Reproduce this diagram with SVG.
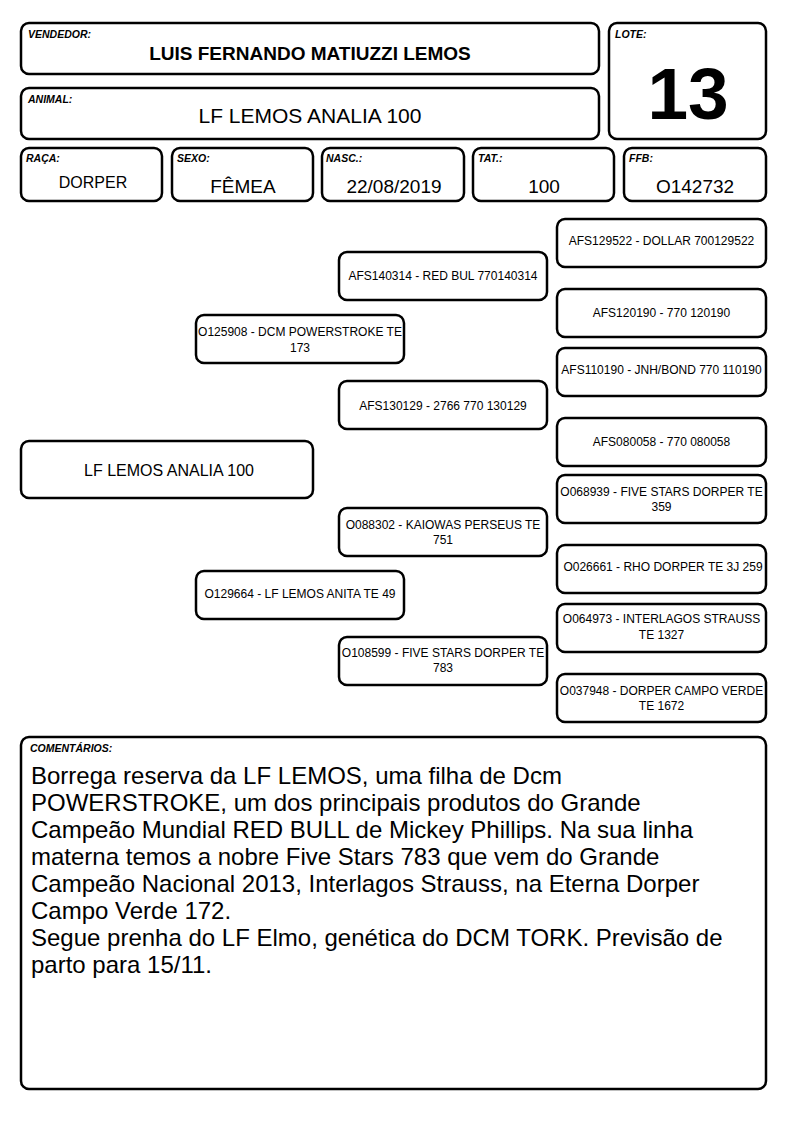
<svg xmlns="http://www.w3.org/2000/svg" width="794" height="1123" viewBox="0 0 794 1123">
<style>
.box{fill:#fff;stroke:#000;stroke-width:2.5}
.lbl{font-family:"Liberation Sans",Arial,sans-serif;font-size:10.5px;font-weight:bold;font-style:italic;fill:#000}
.val{font-family:"Liberation Sans",Arial,sans-serif;font-size:19px;fill:#000;text-anchor:middle}
.ped{font-family:"Liberation Sans",Arial,sans-serif;font-size:12px;fill:#000;text-anchor:middle}
.com{font-family:"Liberation Sans",Arial,sans-serif;font-size:24px;fill:#000}
</style>
<rect width="794" height="1123" fill="#fff"/>
<g id="vendedor">
<rect class="box" x="21" y="23" width="578" height="51" rx="8"/>
<text class="lbl" x="28" y="38">VENDEDOR:</text>
<text x="310" y="60" font-family="'Liberation Sans',Arial,sans-serif" font-size="19" font-weight="bold" text-anchor="middle">LUIS FERNANDO MATIUZZI LEMOS</text>
</g>
<g id="animal">
<rect class="box" x="21" y="88" width="578" height="51" rx="8"/>
<text class="lbl" x="28" y="103">ANIMAL:</text>
<text x="310" y="123" font-family="'Liberation Sans',Arial,sans-serif" font-size="21" text-anchor="middle">LF LEMOS ANALIA 100</text>
</g>
<g id="lote">
<rect class="box" x="609" y="23" width="157" height="116" rx="8"/>
<text class="lbl" x="615" y="38">LOTE:</text>
<text x="688" y="119" font-family="'Liberation Sans',Arial,sans-serif" font-size="73" font-weight="bold" text-anchor="middle">13</text>
</g>
<g id="raca">
<rect class="box" x="21" y="148" width="141" height="53" rx="8"/>
<text class="lbl" x="26" y="162">RAÇA:</text>
<text class="val" x="93" y="188" style="font-size:16px">DORPER</text>
</g>
<g id="sexo">
<rect class="box" x="172" y="148" width="141" height="53" rx="8"/>
<text class="lbl" x="177" y="162">SEXO:</text>
<text class="val" x="243" y="193">FÊMEA</text>
</g>
<g id="nasc">
<rect class="box" x="322" y="148" width="142" height="53" rx="8"/>
<text class="lbl" x="326" y="162">NASC.:</text>
<text class="val" x="394" y="193">22/08/2019</text>
</g>
<g id="tat">
<rect class="box" x="473" y="148" width="141" height="53" rx="8"/>
<text class="lbl" x="478" y="162">TAT.:</text>
<text class="val" x="544" y="193">100</text>
</g>
<g id="ffb">
<rect class="box" x="624" y="148" width="142" height="53" rx="8"/>
<text class="lbl" x="629" y="162">FFB:</text>
<text class="val" x="695" y="193">O142732</text>
</g>
<g id="connectors"></g>
<g id="main">
<rect class="box" x="21" y="441" width="292" height="57" rx="8"/>
<text x="169" y="476" font-family="'Liberation Sans',Arial,sans-serif" font-size="16" text-anchor="middle">LF LEMOS ANALIA 100</text>
</g>
<g id="o125908">
<rect class="box" x="196" y="315" width="208" height="48" rx="8"/>
<text class="ped" x="300" y="336">O125908 - DCM POWERSTROKE TE</text>
<text class="ped" x="300" y="352">173</text>
</g>
<g id="o129664">
<rect class="box" x="196" y="571" width="208" height="48" rx="8"/>
<text class="ped" x="300" y="598">O129664 - LF LEMOS ANITA TE 49</text>
</g>
<g id="afs140314">
<rect class="box" x="339" y="252" width="208" height="48" rx="8"/>
<text class="ped" x="443" y="280">AFS140314 - RED BUL 770140314</text>
</g>
<g id="afs130129">
<rect class="box" x="339" y="381" width="208" height="48" rx="8"/>
<text class="ped" x="443" y="410">AFS130129 - 2766 770 130129</text>
</g>
<g id="o088302">
<rect class="box" x="339" y="508" width="208" height="48" rx="8"/>
<text class="ped" x="443" y="529">O088302 - KAIOWAS PERSEUS TE</text>
<text class="ped" x="443" y="544">751</text>
</g>
<g id="o108599">
<rect class="box" x="339" y="637" width="208" height="48" rx="8"/>
<text class="ped" x="443" y="657">O108599 - FIVE STARS DORPER TE</text>
<text class="ped" x="443" y="672">783</text>
</g>
<g id="afs129522">
<rect class="box" x="557" y="219" width="209" height="48" rx="8"/>
<text class="ped" x="661.5" y="245">AFS129522 - DOLLAR 700129522</text>
</g>
<g id="afs120190">
<rect class="box" x="557" y="289" width="209" height="48" rx="8"/>
<text class="ped" x="661.5" y="317">AFS120190 - 770 120190</text>
</g>
<g id="afs110190">
<rect class="box" x="557" y="348" width="209" height="48" rx="8"/>
<text class="ped" x="661.5" y="374">AFS110190 - JNH/BOND 770 110190</text>
</g>
<g id="afs080058">
<rect class="box" x="557" y="418" width="209" height="48" rx="8"/>
<text class="ped" x="661.5" y="446">AFS080058 - 770 080058</text>
</g>
<g id="o068939">
<rect class="box" x="557" y="475" width="209" height="48" rx="8"/>
<text class="ped" x="661.5" y="496">O068939 - FIVE STARS DORPER TE</text>
<text class="ped" x="661.5" y="511">359</text>
</g>
<g id="o026661">
<rect class="box" x="557" y="545" width="209" height="48" rx="8"/>
<text class="ped" x="663" y="571">O026661 - RHO DORPER TE 3J 259</text>
</g>
<g id="o064973">
<rect class="box" x="557" y="604" width="209" height="48" rx="8"/>
<text class="ped" x="661.5" y="623">O064973 - INTERLAGOS STRAUSS</text>
<text class="ped" x="661.5" y="639">TE 1327</text>
</g>
<g id="o037948">
<rect class="box" x="557" y="674" width="209" height="48" rx="8"/>
<text class="ped" x="661.5" y="695">O037948 - DORPER CAMPO VERDE</text>
<text class="ped" x="661.5" y="710">TE 1672</text>
</g>
<g id="comentarios">
<rect class="box" x="21" y="737" width="745" height="352" rx="8"/>
<text class="lbl" x="30" y="752">COMENTÁRIOS:</text>
<text class="com" x="31" y="784">Borrega reserva da LF LEMOS, uma filha de Dcm</text>
<text class="com" x="31" y="811">POWERSTROKE, um dos principais produtos do Grande</text>
<text class="com" x="31" y="838">Campeão Mundial RED BULL de Mickey Phillips. Na sua linha</text>
<text class="com" x="31" y="865">materna temos a nobre Five Stars 783 que vem do Grande</text>
<text class="com" x="31" y="892">Campeão Nacional 2013, Interlagos Strauss, na Eterna Dorper</text>
<text class="com" x="31" y="919">Campo Verde 172.</text>
<text class="com" x="31" y="946">Segue prenha do LF Elmo, genética do DCM TORK. Previsão de</text>
<text class="com" x="31" y="973">parto para 15/11.</text>
</g>
</svg>
